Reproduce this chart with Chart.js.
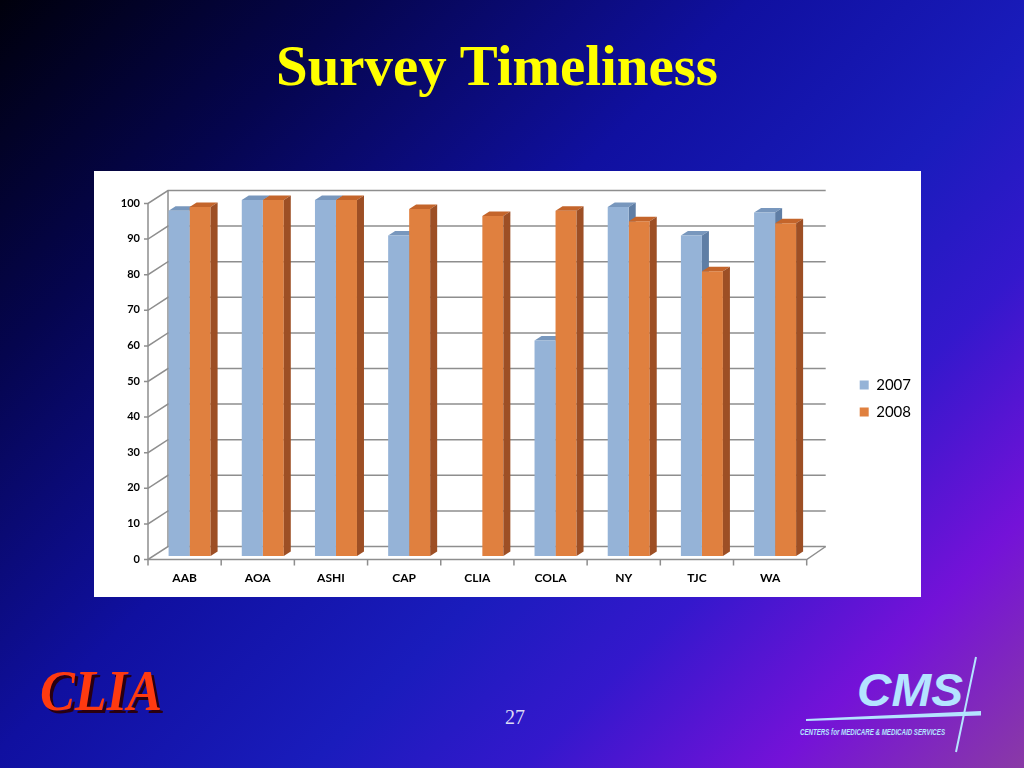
<!DOCTYPE html>
<html>
<head>
<meta charset="utf-8">
<script src="https://cdn.jsdelivr.net/npm/chart.js@4.4.1/dist/chart.umd.min.js"></script>
<style>
  html, body { margin: 0; padding: 0; }
  body {
    width: 1024px; height: 768px; overflow: hidden; position: relative;
    background: linear-gradient(135deg, #00000c 0%, #05054e 20%, #1010a0 42%, #1a1cbc 60%, #3418cc 72%, #7412d8 86%, #8a3aa6 100%);
  }
  #deco { position: absolute; left: 0; top: 0; }
  #box { position: absolute; left: 94px; top: 171px; width: 827px; height: 426px; background: #fff; }
  #barChart { display: block; }
</style>
</head>
<body>
<svg id="deco" width="1024" height="768">
  <text x="497" y="85" text-anchor="middle" font-family="Liberation Serif" font-weight="bold" font-size="57" fill="#ffff00" textLength="442" lengthAdjust="spacingAndGlyphs">Survey Timeliness</text>
  <text x="515" y="724" text-anchor="middle" font-family="Liberation Serif" font-size="20" fill="#dcdcf5">27</text>
  <!-- CLIA logo -->
  <text x="43" y="713" font-family="Liberation Serif" font-style="italic" font-weight="bold" font-size="58" fill="#2a0010" textLength="122" lengthAdjust="spacingAndGlyphs">CLIA</text>
  <text x="40" y="710" font-family="Liberation Serif" font-style="italic" font-weight="bold" font-size="58" fill="#ff3a10" textLength="122" lengthAdjust="spacingAndGlyphs">CLIA</text>
  <!-- CMS logo -->
  <text x="857" y="706" font-family="Liberation Sans" font-style="italic" font-weight="bold" font-size="47" fill="#b4e4ff" textLength="106" lengthAdjust="spacingAndGlyphs">CMS</text>
  <polygon points="806,719 981,711 981,715.5 806,721" fill="#b4e4ff"/>
  <line x1="976" y1="657" x2="956" y2="752" stroke="#b4e4ff" stroke-width="2"/>
  <text x="800" y="735" font-family="Liberation Sans Narrow, Liberation Sans" font-style="italic" font-weight="bold" font-size="9" fill="#b4e4ff" textLength="145" lengthAdjust="spacingAndGlyphs">CENTERS for MEDICARE &amp; MEDICAID SERVICES</text>
</svg>

<div id="box"><canvas id="barChart" width="827" height="426"></canvas></div>

<script>
// data
const categories = ["AAB", "AOA", "ASHI", "CAP", "CLIA", "COLA", "NY", "TJC", "WA"];
const seriesLabels = ["2007", "2008"];
const values2007 = [97, 100, 100, 90, 0, 60.5, 98, 90, 96.5];
const values2008 = [98, 100, 100, 97.5, 95.5, 97, 94, 80, 93.5];
const yTicks = [0, 10, 20, 30, 40, 50, 60, 70, 80, 90, 100];

// colours
const FRONT = ["#95b3d7", "#e0803f"];
const TOP = ["#7897bd", "#c4652b"];
const SIDE = ["#5f7ea5", "#9d4f25"];
const GRID = "#8e8e8e";

// fake 3D offsets, relative to the plane the bars stand in
const DEPTH_X = 7, DEPTH_Y = -4.5;   // bar depth
const FRONT_DX = -5, FRONT_DY = 3.5; // front edge of floor / axis
const BACK_DX = 15, BACK_DY = -9.5;  // back wall

// Function to draw the top and side faces of one series
const drawFaces = (chart, di) => {
  const ctx = chart.ctx;
  const data = chart.data.datasets[di].data;
  ctx.save();
  chart.getDatasetMeta(di).data.forEach((bar, i) => {
    if (!(data[i] > 0)) return;
    const { x, y, base, width } = bar.getProps(["x", "y", "base", "width"], true);
    const x0 = x - width / 2, x1 = x + width / 2;
    ctx.fillStyle = TOP[di];
    ctx.beginPath();
    ctx.moveTo(x0, y);
    ctx.lineTo(x1, y);
    ctx.lineTo(x1 + DEPTH_X, y + DEPTH_Y);
    ctx.lineTo(x0 + DEPTH_X, y + DEPTH_Y);
    ctx.closePath();
    ctx.fill();
    ctx.fillStyle = SIDE[di];
    ctx.beginPath();
    ctx.moveTo(x1, y);
    ctx.lineTo(x1 + DEPTH_X, y + DEPTH_Y);
    ctx.lineTo(x1 + DEPTH_X, base + DEPTH_Y);
    ctx.lineTo(x1, base);
    ctx.closePath();
    ctx.fill();
  });
  ctx.restore();
};

const wall3d = {
  id: "wall3d",
  beforeDatasetsDraw(chart) {
    const { ctx, chartArea: ca, scales } = chart;
    const xs = scales.x, ys = scales.y;
    const y0 = ys.getPixelForValue(0), y100 = ys.getPixelForValue(100);
    ctx.save();
    ctx.strokeStyle = GRID;
    ctx.lineWidth = 1.5;

    // back wall grid + left wall diagonals
    yTicks.forEach((v) => {
      const py = ys.getPixelForValue(v);
      ctx.beginPath();
      ctx.moveTo(ca.left + FRONT_DX - 4, py + FRONT_DY);
      ctx.lineTo(ca.left + FRONT_DX, py + FRONT_DY);
      ctx.lineTo(ca.left + BACK_DX, py + BACK_DY);
      ctx.lineTo(ca.right + BACK_DX - 1, py + BACK_DY);
      ctx.stroke();
    });

    // vertical edges of the left wall
    ctx.beginPath();
    ctx.moveTo(ca.left + FRONT_DX, y100 + FRONT_DY);
    ctx.lineTo(ca.left + FRONT_DX, y0 + FRONT_DY);
    ctx.moveTo(ca.left + BACK_DX, y100 + BACK_DY);
    ctx.lineTo(ca.left + BACK_DX, y0 + BACK_DY);
    ctx.stroke();

    // floor front and right edges
    ctx.beginPath();
    ctx.moveTo(ca.left + FRONT_DX, y0 + FRONT_DY);
    ctx.lineTo(ca.right + FRONT_DX, y0 + FRONT_DY);
    ctx.lineTo(ca.right + BACK_DX - 1, y0 + BACK_DY);
    ctx.stroke();

    // category tick marks
    ctx.beginPath();
    for (let i = 0; i <= categories.length; i++) {
      const px = xs.getPixelForValue(i - 0.5) + FRONT_DX;
      ctx.moveTo(px, y0 + FRONT_DY);
      ctx.lineTo(px, y0 + FRONT_DY + 6);
    }
    ctx.stroke();
    ctx.restore();

    // 2007 faces go under the 2008 fronts
    drawFaces(chart, 0);
  },
  afterDatasetsDraw(chart) {
    drawFaces(chart, 1);
  },
};

const tickFont = { family: "Lato", weight: "bold", size: 11 };

new Chart(document.getElementById("barChart").getContext("2d"), {
  type: "bar",
  data: {
    labels: categories,
    datasets: [
      { label: seriesLabels[0], data: values2007, yAxisID: "y", backgroundColor: FRONT[0], borderWidth: 0, categoryPercentage: 0.574, barPercentage: 1 },
      { label: seriesLabels[1], data: values2008, yAxisID: "y", backgroundColor: FRONT[1], borderWidth: 0, categoryPercentage: 0.574, barPercentage: 1 },
    ],
  },
  options: {
    responsive: false,
    animation: false,
    layout: { padding: { top: 29, left: 0, right: 0, bottom: 0 } },
    scales: {
      x: {
        grid: { display: false, drawTicks: false },
        border: { display: false },
        ticks: { color: "#000", font: { family: "Lato", weight: "bold", size: 12 }, padding: 15, labelOffset: FRONT_DX, maxRotation: 0 },
        afterFit: (s) => { s.height = 41; },
      },
      y: {
        min: 0,
        max: 100,
        grid: { display: false, drawTicks: false },
        border: { display: false },
        ticks: { color: "#000", font: tickFont, padding: 13, labelOffset: 3 },
        afterBuildTicks: (s) => { s.ticks = yTicks.map((v) => ({ value: v })); },
        afterFit: (s) => { s.width = 59; },
      },
      // empty axis that only keeps room between the plot and the legend
      gap: {
        type: "linear",
        position: "right",
        grid: { display: false },
        border: { display: false },
        ticks: { display: false },
        afterFit: (s) => { s.width = 36; },
      },
    },
    plugins: {
      legend: {
        position: "right",
        labels: { boxWidth: 9, boxHeight: 9, padding: 12, color: "#000", font: { family: "Lato", size: 15 } },
      },
      tooltip: { enabled: false },
    },
  },
  plugins: [wall3d],
});
</script>
</body>
</html>
